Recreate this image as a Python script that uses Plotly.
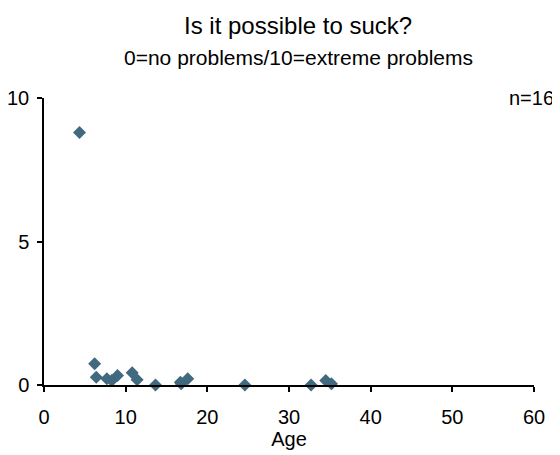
import plotly.graph_objects as go

age = [4.35, 6.2, 6.4, 7.7, 8.3, 9.0, 10.8, 11.4, 13.65, 16.7, 16.8, 17.6, 24.6, 32.7, 34.5, 35.2]
score = [8.8, 0.74, 0.27, 0.22, 0.16, 0.33, 0.43, 0.18, 0.0, 0.1, 0.04, 0.22, 0.0, 0.0, 0.16, 0.04]

x_ticks = [0, 10, 20, 30, 40, 50, 60]
y_ticks = [0, 5, 10]

title = "Is it possible to suck?"
subtitle = "0=no problems/10=extreme problems"
n_label = "n=16"

font_family = "Liberation Sans, Arial, sans-serif"

# page has an 8px body margin; figure is sized so plot area lands where the reference has it
W, H = 552, 447
ML, MR, MT, MB = 36, 26, 90, 70
plot_w = W - ML - MR
plot_h = H - MT - MB

def px_x(page_x):
    return (page_x - 8 - ML) / plot_w

def px_y(page_y):
    return (H - MB - (page_y - 8)) / plot_h

fig = go.Figure()
fig.add_trace(go.Scatter(
    x=age, y=score, mode="markers",
    marker=dict(symbol="diamond", size=10, color="#41697f", line=dict(width=0)),
    showlegend=False, cliponaxis=False,
))

fig.update_layout(
    width=W, height=H,
    margin=dict(l=ML, r=MR, t=MT, b=MB, autoexpand=False),
    paper_bgcolor="white", plot_bgcolor="white",
    font=dict(family=font_family, size=20, color="black"),
    xaxis=dict(range=[0, 60], tickvals=x_ticks, showgrid=False, zeroline=False,
               showline=True, linecolor="black", linewidth=1.5,
               ticks="outside", ticklen=5, tickcolor="black", tickwidth=1.5,
               ticklabelstandoff=8, automargin=False,
               title=dict(text="Age", font=dict(size=20), standoff=2)),
    yaxis=dict(range=[0, 10], tickvals=y_ticks, showgrid=False, zeroline=False,
               showline=True, linecolor="black", linewidth=1.5,
               ticks="outside", ticklen=5, tickcolor="black", tickwidth=1.5,
               ticklabelstandoff=4, automargin=False),
    annotations=[
        dict(text=title, x=px_x(298), xref="paper", xanchor="center",
             y=px_y(25), yref="paper", yanchor="middle",
             showarrow=False, font=dict(size=24)),
        dict(text=subtitle, x=px_x(298), xref="paper", xanchor="center",
             y=px_y(57), yref="paper", yanchor="middle",
             showarrow=False, font=dict(size=21)),
        dict(text=n_label, x=px_x(556), xref="paper", xanchor="right",
             y=10, yref="y", yanchor="middle",
             showarrow=False, font=dict(size=20)),
    ],
)

fig.write_html("out.html")
